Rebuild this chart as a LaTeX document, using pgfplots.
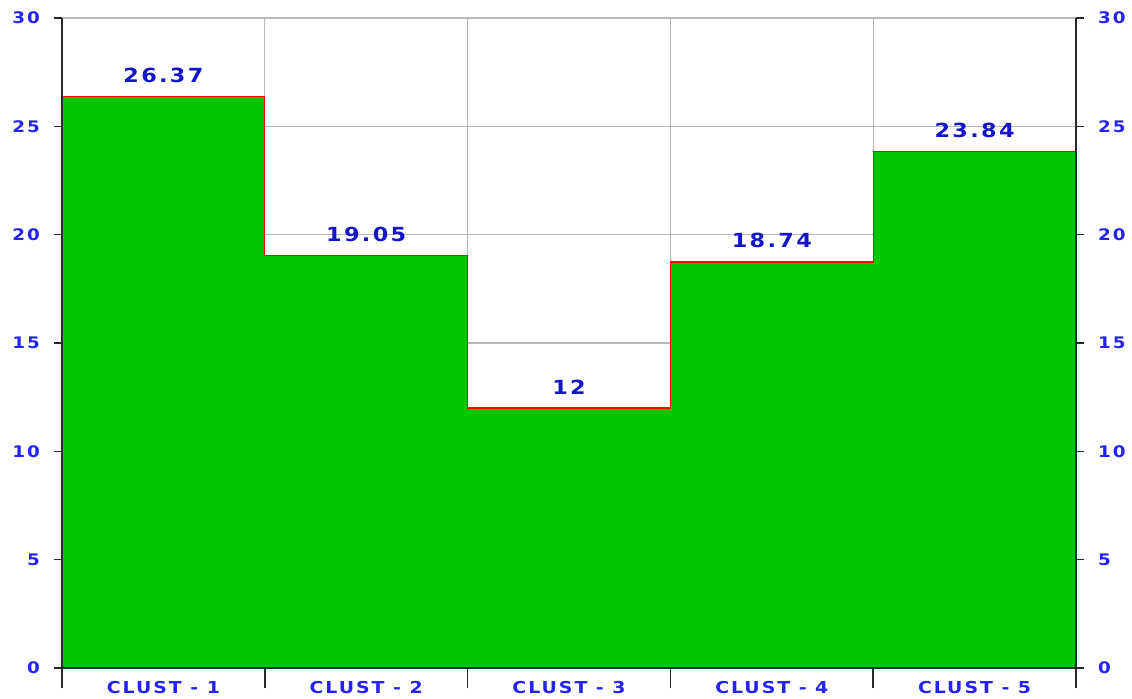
\documentclass[border=0pt]{standalone}
\usepackage{fontspec}
\setmainfont{DejaVu Sans}[LetterSpace=12, FakeStretch=1.15]
\usepackage{pgfplots}
\pgfplotsset{compat=1.18}
\usepackage{pgfplotstable}

\definecolor{barfill}{RGB}{0,200,0}
\definecolor{tickblue}{RGB}{35,35,245}
\definecolor{valblue}{RGB}{20,20,200}
\definecolor{gridgray}{RGB}{185,185,185}
\definecolor{axisdark}{RGB}{40,40,40}

\pgfplotstableread{
x y
0 26.37
1 19.05
2 12
3 18.74
4 23.84
5 23.84
}\steps

\pgfplotstableread{
x y lab
0.5 26.37 26.37
1.5 19.05 19.05
2.5 12 12
3.5 18.74 18.74
4.5 23.84 23.84
}\labels

\pgfplotsset{
  base/.style={
    width=1014bp, height=650bp, scale only axis,
    xmin=0, xmax=5, ymin=0, ymax=30,
    /pgf/number format/assume math mode=true,
    tick label style={font=\fontsize{16}{18}\selectfont\bfseries, text=tickblue},
  }
}

\begin{document}
\begin{tikzpicture}
\begin{axis}[base,
  xtick={0,...,5}, ytick={0,5,...,30},
  xticklabels={}, yticklabels={},
  grid=major, grid style={gridgray, line width=1.3bp},
  axis line style={draw=none}, major tick style={draw=none},
]
\addplot[const plot, fill=barfill, draw=none] table[x=x,y=y]{\steps} \closedcycle;
\addplot[const plot, color=red, line width=1.3bp] table[x=x,y=y]{\steps};
\addplot[draw=none, nodes near coords, point meta=explicit symbolic,
  nodes near coords style={font=\fontsize{19.5}{21}\selectfont\bfseries, text=valblue, anchor=base, yshift=14bp}]
  table[x=x,y=y,meta=lab]{\labels};
\coordinate (ll) at (rel axis cs:0,0);
\coordinate (ur) at (rel axis cs:1,1);
\end{axis}
\begin{axis}[base,
  axis x line*=bottom, axis y line*=left,
  tick align=outside,
  xtick={0,...,5},
  xticklabels={CLUST - 1,CLUST - 2,CLUST - 3,CLUST - 4,CLUST - 5},
  x tick label as interval,
  ytick={0,5,...,30},
  major tick length=8bp,
  axis line style={axisdark, line width=1.5bp, -},
  tick style={axisdark, line width=1.5bp},
  xtick style={/pgfplots/major tick length=20bp},
  yticklabel style={anchor=east, inner sep=0pt, xshift=-14bp},
  xticklabel style={anchor=base, inner sep=0pt, yshift=-17bp, font=\fontsize{16.5}{18}\selectfont\bfseries},
]
\end{axis}
\begin{axis}[base,
  axis y line*=right, axis x line=none,
  tick align=outside,
  ytick={0,5,...,30},
  major tick length=8bp,
  axis line style={axisdark, line width=1.5bp, -},
  tick style={axisdark, line width=1.5bp},
  yticklabel style={anchor=west, inner sep=0pt, xshift=14bp},
]
\end{axis}
\pgfresetboundingbox
\path[use as bounding box] ([shift={(-62bp,-30bp)}]ll) rectangle ([shift={(56bp,18bp)}]ur);
\end{tikzpicture}
\end{document}
